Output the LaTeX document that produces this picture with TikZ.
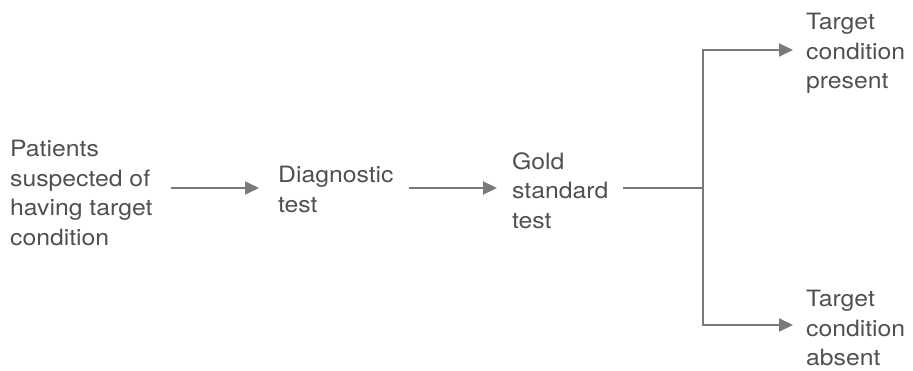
\documentclass[tikz,border=0pt]{standalone}
\usepackage{fontspec}
\setmainfont{TeX Gyre Heros}[FakeStretch=1.1]
\usetikzlibrary{arrows.meta}
\definecolor{inkgray}{HTML}{505050}
\definecolor{linegray}{HTML}{7A7A7A}
\begin{document}
\begin{tikzpicture}[x=1pt,y=-1pt,
  label/.style={anchor=north west,inner sep=0pt,align=left,text=inkgray,
    font=\fontsize{22.5pt}{29.5pt}\selectfont},
  conn/.style={draw=linegray,line width=2pt},
  arr/.style={conn,-{Triangle[length=14pt,width=13pt]},color=linegray}]
  \useasboundingbox (0,0) rectangle (913,371);
  % text blocks
  \node[label] (p) at (10,140) {Patients\\suspected of\\having target\\condition};
  \node[label] (d) at (278,166) {Diagnostic\\test};
  \node[label] (g) at (512,152) {Gold\\standard\\test};
  \node[label] (tp) at (806,13) {Target\\condition\\present};
  \node[label] (ta) at (806,290) {Target\\condition\\absent};
  % helper points for the main row and the branch
  \coordinate (row) at (0,188);
  \coordinate (jm) at (703,188);
  \coordinate (j1) at (703,50);
  \coordinate (j2) at (703,325);
  % flow arrows
  \draw[arr] ([xshift=18pt]p.east |- row) -- ([xshift=-19pt]d.west |- row);
  \draw[arr] ([xshift=15pt]d.east |- row) -- ([xshift=-15pt]g.west |- row);
  \draw[conn] ([xshift=14pt]g.east |- row) -- (jm);
  % branch to the two outcomes
  \draw[conn,{Triangle[length=14pt,width=13pt]}-{Triangle[length=14pt,width=13pt]},color=linegray]
    ([xshift=-13pt]tp.west |- j1) -| (jm) |- ([xshift=-13pt]ta.west |- j2);
\end{tikzpicture}
\end{document}
